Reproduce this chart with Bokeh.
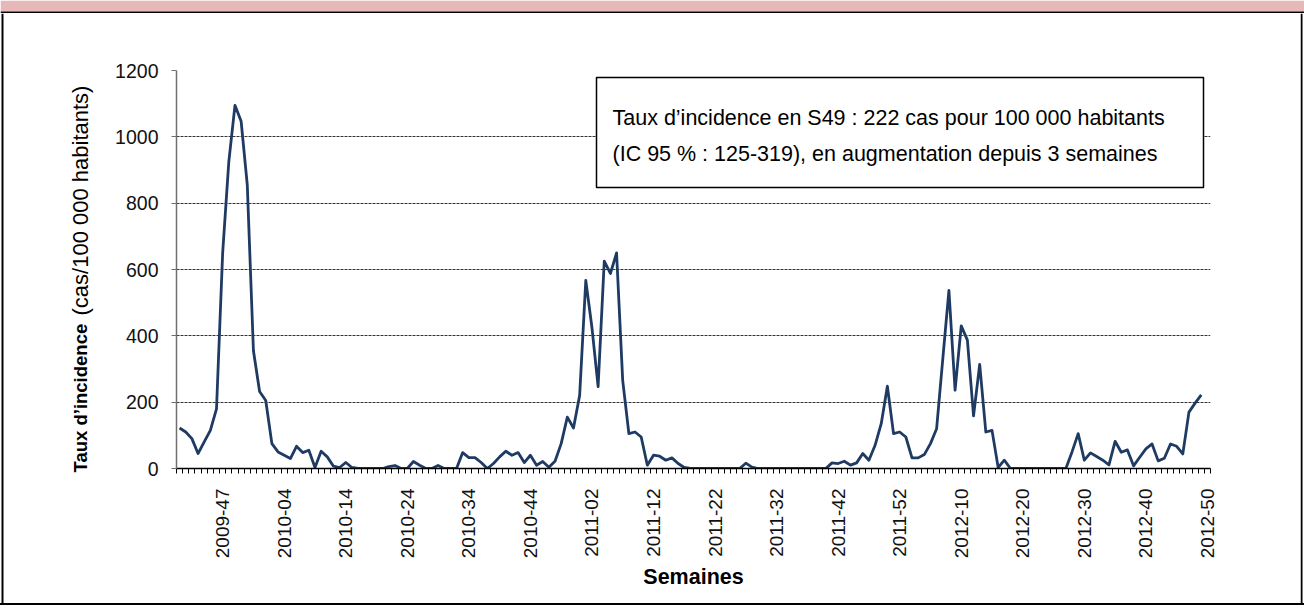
import math
from bokeh.plotting import figure
from bokeh.layouts import column, row
from bokeh.models import Range1d, FixedTicker, Label, BoxAnnotation, Div
from bokeh.core.properties import value
from bokeh.embed import file_html
from bokeh.resources import INLINE

# ---- data ----
years_weeks = [(2009, 53, 40), (2010, 52, 1), (2011, 52, 1), (2012, 50, 1)]
weeks = []
for y, last, first in years_weeks:
    for w in range(first, last + 1):
        weeks.append(f"{y}-{w:02d}")

tick_labels = ["2009-47", "2010-04", "2010-14", "2010-24", "2010-34", "2010-44",
               "2011-02", "2011-12", "2011-22", "2011-32", "2011-42", "2011-52",
               "2012-10", "2012-20", "2012-30", "2012-40", "2012-50"]

incidence = [122, 110, 90, 45, 80, 115, 180, 650, 925, 1095,
             1047, 855, 355, 232, 205, 75, 50, 40, 30, 67,
             48, 55, 3, 52, 35, 7, 3, 18, 3, 0,
             0, 0, 0, 0, 6, 9, 0, 0, 21, 10,
             0, 0, 9, 0, 0, 0, 48, 33, 33, 18,
             0, 15, 35, 52, 40, 48, 18, 40, 10, 21,
             4, 22, 75, 155, 122, 220, 567, 425, 247, 625,
             588, 650, 265, 105, 110, 95, 10, 40, 37, 25,
             32, 15, 3, 0, 0, 0, 0, 0, 0, 0,
             0, 0, 16, 4, 0, 0, 0, 0, 0, 0,
             0, 0, 0, 0, 0, 0, 17, 15, 22, 10,
             17, 45, 25, 70, 135, 248, 105, 110, 95, 32,
             32, 42, 75, 120, 330, 537, 236, 430, 387, 159,
             314, 110, 115, 3, 25, 0, 0, 0, 0, 0,
             0, 0, 0, 0, 0, 50, 105, 25, 47, 36,
             25, 11, 82, 49, 56, 8, 34, 59, 74, 23,
             31, 74, 67, 44, 170, 197, 222]

y_ticks = [0, 200, 400, 600, 800, 1000, 1200]

y_title_bold = "Taux d’incidence"
y_title_rest = "(cas/100 000 habitants)"
info_lines = ["Taux d’incidence en S49 : 222 cas pour 100 000 habitants",
              "(IC 95 % : 125-319), en augmentation depuis 3 semaines"]

FONT = "Liberation Sans"
W, H = 1304, 608
HEAD_H, MID_H = 13, 590
LEFT_W, RIGHT_W = 100, 4
MAIN_W = W - LEFT_W - RIGHT_W


def strip(w, h):
    f = figure(width=w, height=h, output_backend="svg", toolbar_location=None,
               x_range=Range1d(0, w), y_range=Range1d(0, h),
               x_axis_type=None, y_axis_type=None, frame_align=False,
               min_border_left=0, min_border_right=0, min_border_top=0,
               min_border_bottom=0)
    f.outline_line_color = None
    f.background_fill_color = "white"
    f.border_fill_color = "white"
    f.xgrid.visible = False
    f.ygrid.visible = False
    return f


# header band
head = strip(W, HEAD_H)
head.quad(left=[0], right=[W], bottom=[2], top=[HEAD_H], fill_color="#E6B8B7",
          line_color=None)
head.quad(left=[0], right=[W], bottom=[0], top=[2], fill_color="black", line_color=None)

# left strip with y-axis title
left = strip(LEFT_W, MID_H)
left.quad(left=[1], right=[3], bottom=[0], top=[MID_H], fill_color="black", line_color=None)
left.text(x=[80], y=[MID_H - 459], text=[y_title_bold], angle=math.pi / 2,
          text_font=value(FONT), text_font_size=value("18.5px"), text_font_style="bold",
          text_align="left", text_baseline="middle", text_color="black")
left.text(x=[80], y=[MID_H - 302], text=[y_title_rest], angle=math.pi / 2,
          text_font=value(FONT), text_font_size=value("22px"),
          text_align="left", text_baseline="middle", text_color="black")

# right strip
right = strip(RIGHT_W, MID_H)
right.quad(left=[0], right=[2], bottom=[0], top=[MID_H], fill_color="black", line_color=None)

# footer line
foot = Div(text="", width=W, height=2, margin=0,
           styles={"background-color": "black"})

# main chart
n = len(weeks)
x = list(range(len(incidence)))

p = figure(width=MAIN_W, height=MID_H, output_backend="svg", toolbar_location=None,
           x_range=Range1d(-0.5, n - 0.5), y_range=Range1d(0, 1200), frame_align=False,
           min_border_left=176 - LEFT_W, min_border_right=W - RIGHT_W - 1210,
           min_border_top=70 - HEAD_H, min_border_bottom=HEAD_H + MID_H - 468)
p.outline_line_color = None
p.background_fill_color = "white"
p.border_fill_color = "white"

p.line(x, incidence, line_color="#1F3B63", line_width=2.8, line_join="round")

tick_idx = [weeks.index(t) for t in tick_labels]
p.xaxis.ticker = FixedTicker(ticks=tick_idx, minor_ticks=[i - 0.5 for i in range(n + 1)])
p.xaxis.major_label_overrides = {i: t for i, t in zip(tick_idx, tick_labels)}
p.xaxis.major_label_orientation = math.pi / 2
p.xaxis.major_tick_out = 0
p.xaxis.major_tick_in = 0
p.xaxis.minor_tick_out = 5
p.xaxis.minor_tick_in = 0
p.xaxis.minor_tick_line_color = "black"
p.xaxis.axis_line_color = "black"
p.xaxis.axis_line_width = 1.5
p.xaxis.major_label_standoff = 15
p.xaxis.major_label_text_font = FONT
p.xaxis.major_label_text_font_size = "19px"
p.xaxis.major_label_text_color = "#111111"
p.xaxis.axis_label = "Semaines"
p.xaxis.axis_label_text_font = FONT
p.xaxis.axis_label_text_font_size = "21.5px"
p.xaxis.axis_label_text_font_style = "bold"
p.xaxis.axis_label_text_color = "black"
p.xaxis.axis_label_standoff = 4

p.yaxis.ticker = FixedTicker(ticks=y_ticks)
p.yaxis.major_tick_out = 5
p.yaxis.major_tick_in = 0
p.yaxis.minor_tick_line_color = None
p.yaxis.axis_line_color = "#707070"
p.yaxis.axis_line_width = 1.5
p.yaxis.major_tick_line_color = "#707070"
p.yaxis.major_label_standoff = 13
p.yaxis.major_label_text_font = FONT
p.yaxis.major_label_text_font_size = "19.5px"
p.yaxis.major_label_text_color = "#111111"

p.xgrid.grid_line_color = None
p.ygrid.grid_line_color = "#333333"
p.ygrid.grid_line_dash = "3 1"
p.ygrid.grid_line_width = 1

# info box
p.add_layout(BoxAnnotation(left=420, right=1027, top=391, bottom=281,
                           left_units="screen", right_units="screen",
                           top_units="screen", bottom_units="screen",
                           fill_color="white", fill_alpha=1.0,
                           line_color="black", line_alpha=1.0, line_width=1.5))
for txt, yy in zip(info_lines, [351, 315]):
    p.add_layout(Label(x=436, y=yy, x_units="screen", y_units="screen", text=txt,
                       text_font=FONT, text_font_size="21.5px", text_align="left",
                       text_baseline="middle", text_color="black"))

layout = column(head, row(left, p, right), foot)
open("out.html", "w").write(file_html(layout, INLINE))
